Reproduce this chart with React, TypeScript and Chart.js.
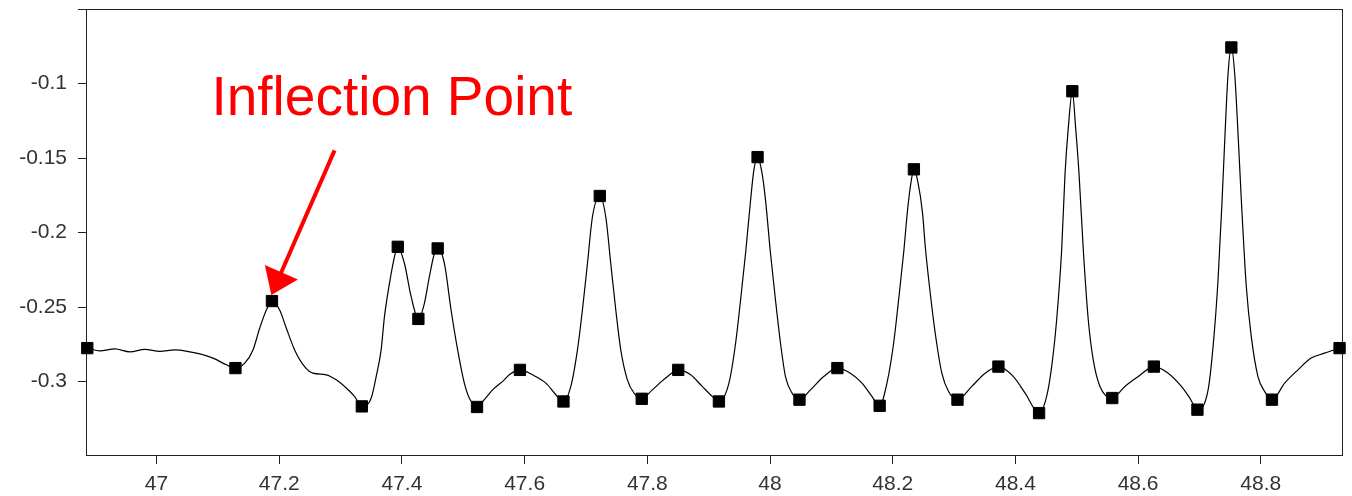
import { useEffect, useRef } from "react";
import { Chart, registerables } from "chart.js";

Chart.register(...registerables);

// Scan trace: [position, signal]
const scanPoints: [number, number][] = [
  [46.8871, -0.2776], [46.9077, -0.2795], [46.9321, -0.2781], [46.9566, -0.2801],
  [46.981, -0.2784], [47.0054, -0.2798], [47.0298, -0.2788], [47.0542, -0.2801],
  [47.0705, -0.2815], [47.0921, -0.2843], [47.1139, -0.2888], [47.1286, -0.291],
  [47.1437, -0.2877], [47.1572, -0.2788], [47.1681, -0.2643], [47.179, -0.252],
  [47.1881, -0.246], [47.2007, -0.252], [47.2116, -0.2643], [47.2251, -0.2788],
  [47.2413, -0.29], [47.2548, -0.2944], [47.2766, -0.2955], [47.2929, -0.2989],
  [47.3092, -0.3044], [47.3227, -0.31], [47.3346, -0.3167], [47.3499, -0.3111],
  [47.358, -0.2967], [47.3661, -0.2788], [47.3715, -0.2565], [47.3797, -0.2341],
  [47.3878, -0.2163], [47.3932, -0.2096], [47.4041, -0.2208], [47.415, -0.2431],
  [47.4268, -0.258], [47.4366, -0.2475], [47.4447, -0.2297], [47.4529, -0.2141],
  [47.4583, -0.2107], [47.4692, -0.2208], [47.4801, -0.252], [47.4908, -0.2788],
  [47.5017, -0.3011], [47.5098, -0.3111], [47.5224, -0.3171], [47.5343, -0.3122],
  [47.5478, -0.3056], [47.5668, -0.2989], [47.5749, -0.2955], [47.5923, -0.2922],
  [47.6128, -0.2955], [47.6347, -0.3011], [47.6509, -0.3089], [47.6633, -0.3134],
  [47.6753, -0.3033], [47.6861, -0.2788], [47.6942, -0.252], [47.7024, -0.2208],
  [47.7105, -0.1896], [47.7225, -0.1755], [47.7323, -0.1896], [47.7404, -0.2208],
  [47.7486, -0.252], [47.7567, -0.2788], [47.7675, -0.2989], [47.7784, -0.3078],
  [47.7909, -0.3116], [47.8081, -0.3056], [47.8299, -0.2977], [47.8504, -0.2922],
  [47.8706, -0.2955], [47.8895, -0.3033], [47.9058, -0.31], [47.9167, -0.3134],
  [47.933, -0.3011], [47.9439, -0.2743], [47.952, -0.2453], [47.9601, -0.2141],
  [47.9683, -0.1784], [47.9736, -0.1583], [47.9797, -0.1494], [47.9871, -0.1605],
  [47.9927, -0.1784], [48.0008, -0.2141], [48.0089, -0.2453], [48.0171, -0.2743],
  [48.0252, -0.2967], [48.036, -0.3078], [48.048, -0.3122], [48.0659, -0.3056],
  [48.0875, -0.2967], [48.1098, -0.291], [48.131, -0.2944], [48.1499, -0.3011],
  [48.1661, -0.31], [48.1787, -0.3163], [48.1906, -0.3011], [48.2015, -0.2743],
  [48.2096, -0.2453], [48.2177, -0.2141], [48.2247, -0.1829], [48.2303, -0.165],
  [48.2345, -0.1576], [48.241, -0.1661], [48.2487, -0.1873], [48.2531, -0.2096],
  [48.2612, -0.2408], [48.2693, -0.2676], [48.2801, -0.2944], [48.291, -0.3067],
  [48.3056, -0.3122], [48.3289, -0.3033], [48.3507, -0.2944], [48.3723, -0.29],
  [48.3968, -0.2967], [48.4158, -0.3078], [48.4386, -0.3212], [48.4509, -0.31],
  [48.4591, -0.29], [48.4672, -0.2587], [48.4754, -0.2118], [48.4809, -0.1605],
  [48.4863, -0.1293], [48.4928, -0.1052], [48.4981, -0.1293], [48.5037, -0.1605],
  [48.5107, -0.2118], [48.5188, -0.2587], [48.5269, -0.2855], [48.5378, -0.3033],
  [48.5579, -0.3111], [48.5785, -0.3033], [48.6002, -0.2967], [48.6257, -0.29],
  [48.649, -0.2944], [48.6706, -0.3033], [48.6843, -0.3111], [48.6967, -0.3189],
  [48.7141, -0.3056], [48.7222, -0.2766], [48.7303, -0.2319], [48.7369, -0.1784],
  [48.7422, -0.1293], [48.7466, -0.0936], [48.752, -0.0758], [48.7575, -0.0936],
  [48.7629, -0.1337], [48.7683, -0.1784], [48.7764, -0.2364], [48.7845, -0.2699],
  [48.7954, -0.2967], [48.8063, -0.3067], [48.8182, -0.3122], [48.8389, -0.3011],
  [48.8605, -0.2922], [48.8822, -0.2843], [48.904, -0.281], [48.9284, -0.2776],
];

// Detected extrema (maxima and minima) along the scan
const markerX = [
  46.8871, 47.1286, 47.1881, 47.3346, 47.3932, 47.4268, 47.4583, 47.5224,
  47.5923, 47.6633, 47.7225, 47.7909, 47.8504, 47.9167, 47.9797, 48.048,
  48.1098, 48.1787, 48.2345, 48.3056, 48.3723, 48.4386, 48.4928, 48.5579,
  48.6257, 48.6967, 48.752, 48.8182, 48.9284,
];
const markerY = [
  -0.2776, -0.291, -0.246, -0.3167, -0.2096, -0.258, -0.2107, -0.3171,
  -0.2922, -0.3134, -0.1755, -0.3116, -0.2922, -0.3134, -0.1494, -0.3122,
  -0.291, -0.3163, -0.1576, -0.3122, -0.29, -0.3212, -0.1052, -0.3111,
  -0.29, -0.3189, -0.0758, -0.3122, -0.2776,
];

const xRange = [46.885, 48.934];
const yRange = [-0.35, -0.05];
const xTickValues = [47, 47.2, 47.4, 47.6, 47.8, 48, 48.2, 48.4, 48.6, 48.8];
const xTickLabels = ["47", "47.2", "47.4", "47.6", "47.8", "48", "48.2", "48.4", "48.6", "48.8"];
const yTickValues = [-0.05, -0.1, -0.15, -0.2, -0.25, -0.3];
const yTickLabels = ["", "-0.1", "-0.15", "-0.2", "-0.25", "-0.3"];

// Callout pointing at the first shoulder
const calloutText = "Inflection Point";
const calloutTextAt = { x: 47.0895, y: -0.121 };
const arrowFrom = { x: 47.2902, y: -0.1449 };
const arrowTo = { x: 47.1871, y: -0.242 };

const FONT = '"Liberation Sans", Arial, sans-serif';
const AXIS_COLOR = "#222";

const framePlugin = {
  id: "frame",
  beforeDatasetsDraw(chart: any) {
    const { ctx, chartArea: a } = chart;
    ctx.save();
    ctx.strokeStyle = AXIS_COLOR;
    ctx.lineWidth = 1;
    const l = Math.round(a.left) + 0.5;
    const t = Math.round(a.top) + 0.5;
    const r = Math.round(a.right) - 0.5;
    const b = Math.round(a.bottom) - 0.5;
    ctx.strokeRect(l, t, r - l, b - t);
    ctx.restore();
  },
};

const calloutPlugin = {
  id: "callout",
  afterDatasetsDraw(chart: any) {
    const { ctx } = chart;
    const xs = chart.scales.x;
    const ys = chart.scales.y;
    ctx.save();
    ctx.fillStyle = "#ff0000";
    ctx.strokeStyle = "#ff0000";
    ctx.font = `55px ${FONT}`;
    ctx.textAlign = "left";
    ctx.textBaseline = "alphabetic";
    ctx.fillText(calloutText, xs.getPixelForValue(calloutTextAt.x), ys.getPixelForValue(calloutTextAt.y));

    const x0 = xs.getPixelForValue(arrowFrom.x);
    const y0 = ys.getPixelForValue(arrowFrom.y);
    const x1 = xs.getPixelForValue(arrowTo.x);
    const y1 = ys.getPixelForValue(arrowTo.y);
    const len = Math.hypot(x1 - x0, y1 - y0);
    const ux = (x1 - x0) / len;
    const uy = (y1 - y0) / len;
    const headLen = 25;
    const halfW = 18;
    const bx = x1 - ux * headLen;
    const by = y1 - uy * headLen;
    ctx.lineWidth = 4;
    ctx.beginPath();
    ctx.moveTo(x0, y0);
    ctx.lineTo(bx + ux * 2, by + uy * 2);
    ctx.stroke();
    ctx.beginPath();
    ctx.moveTo(x1, y1);
    ctx.lineTo(bx - uy * halfW, by + ux * halfW);
    ctx.lineTo(bx + uy * halfW, by - ux * halfW);
    ctx.closePath();
    ctx.fill();
    ctx.restore();
  },
};

export default function App() {
  const canvasRef = useRef<HTMLCanvasElement | null>(null);

  useEffect(() => {
    document.body.style.margin = "0";
    const canvas = canvasRef.current;
    if (!canvas) return;

    const chart = new Chart(canvas, {
      type: "line",
      data: {
        datasets: [
          {
            data: scanPoints.map(([x, y]) => ({ x, y })),
            borderColor: "#000",
            borderWidth: 1.2,
            pointRadius: 0,
            cubicInterpolationMode: "monotone",
            clip: false as any,
            order: 2,
          },
          {
            data: markerX.map((x, i) => ({ x, y: markerY[i] })),
            showLine: false,
            pointStyle: "rect",
            pointRadius: 8,
            pointBackgroundColor: "#000",
            pointBorderColor: "#000",
            pointBorderWidth: 1,
            clip: false as any,
            order: 1,
          },
        ],
      },
      options: {
        animation: false,
        responsive: false,
        devicePixelRatio: 1,
        layout: { padding: { top: 8, right: 7, left: 0, bottom: 0 } },
        plugins: { legend: { display: false }, tooltip: { enabled: false } },
        scales: {
          x: {
            type: "linear",
            min: xRange[0],
            max: xRange[1],
            afterBuildTicks: (scale: any) => {
              scale.ticks = xTickValues.map((v) => ({ value: v }));
            },
            afterFit: (scale: any) => {
              scale.height = 40;
              scale.paddingLeft = 0;
              scale.paddingRight = 0;
            },
            ticks: {
              autoSkip: false,
              maxRotation: 0,
              padding: 8,
              color: "#333",
              font: { family: FONT, size: 21 },
              callback: (v: any) => {
                const i = xTickValues.findIndex((t) => Math.abs(t - v) < 1e-6);
                return i >= 0 ? xTickLabels[i] : "";
              },
            },
            grid: { drawOnChartArea: false, drawTicks: true, tickLength: 8, color: AXIS_COLOR },
            border: { display: false },
          },
          y: {
            type: "linear",
            min: yRange[0],
            max: yRange[1],
            afterBuildTicks: (scale: any) => {
              scale.ticks = yTickValues.map((v) => ({ value: v }));
            },
            afterFit: (scale: any) => {
              scale.width = 86;
              scale.paddingTop = 0;
              scale.paddingBottom = 0;
            },
            ticks: {
              autoSkip: false,
              padding: 11,
              color: "#333",
              font: { family: FONT, size: 21 },
              callback: (v: any) => {
                const i = yTickValues.findIndex((t) => Math.abs(t - v) < 1e-6);
                return i >= 0 ? yTickLabels[i] : "";
              },
            },
            grid: { drawOnChartArea: false, drawTicks: true, tickLength: 8, color: AXIS_COLOR },
            border: { display: false },
          },
        },
      },
      plugins: [framePlugin, calloutPlugin],
    });

    return () => chart.destroy();
  }, []);

  return <canvas ref={canvasRef} width={1352} height={496} style={{ display: "block" }} />;
}
